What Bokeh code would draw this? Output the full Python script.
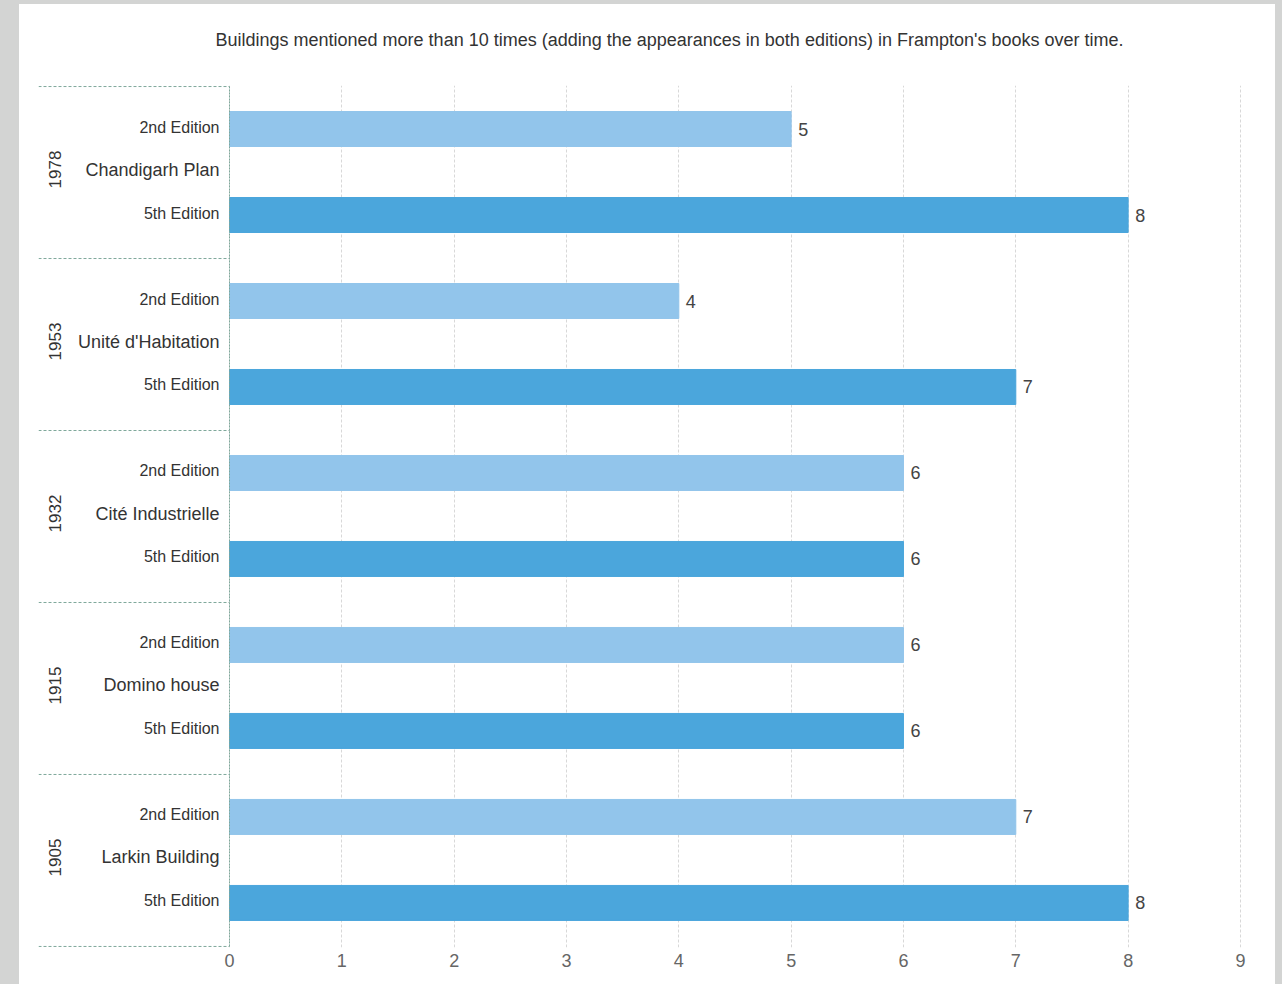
from bokeh.plotting import figure
from bokeh.models import Range1d, FixedTicker, ColumnDataSource
from bokeh.layouts import column
from bokeh.core.properties import value
from bokeh.embed import file_html
from bokeh.resources import INLINE
import math

# ---- data ----
years = ["1978", "1953", "1932", "1915", "1905"]
buildings = ["Chandigarh Plan", "Unité d'Habitation", "Cité Industrielle",
             "Domino house", "Larkin Building"]
editions = ["2nd Edition", "5th Edition"]
second_edition = [5, 4, 6, 6, 7]
fifth_edition = [8, 7, 6, 6, 8]
x_ticks = [0, 1, 2, 3, 4, 5, 6, 7, 8, 9]
title_text = ("Buildings mentioned more than 10 times (adding the appearances in "
              "both editions) in Frampton's books over time.")

FONT = "Liberation Sans"
LIGHT = "#92c5eb"
DARK = "#4ba6dc"
SEP = "#7fa89b"
W = 1256
HEAD_H = 81
BORDER_L = 19
BORDER_R = 25
frame_w = W - BORDER_L - BORDER_R

# ---- heading strip ----
head = figure(width=W, height=HEAD_H, output_backend="svg", toolbar_location=None,
              x_range=Range1d(0, frame_w), y_range=Range1d(0, HEAD_H),
              x_axis_location=None, y_axis_location=None, min_border=0,
              min_border_left=BORDER_L, min_border_right=BORDER_R)
head.outline_line_color = None
head.grid.grid_line_color = None
head.background_fill_color = "white"
head.border_fill_color = "white"
head.styles = {"background-color": "white"}
head.text(x=[177], y=[HEAD_H - 35], text=[title_text], text_align="left",
          text_baseline="middle", text_font=value(FONT), text_font_size="18px",
          text_color="#333333")

# ---- bar chart ----
n = len(buildings)
# each building occupies one unit band, first building at the top
tops = [n - i for i in range(n)]
mids = [t - 0.5 for t in tops]
y2 = [t - 0.247 for t in tops]
y5 = [t - 0.747 for t in tops]
bar_h = 0.2035

px_per_unit = 112.33
x_start = -191 / px_per_unit
x_end = x_start + frame_w / px_per_unit

p = figure(width=W, height=980 - HEAD_H, output_backend="svg",
           toolbar_location=None,
           x_range=Range1d(x_start, x_end), y_range=Range1d(-0.006, n + 0.006),
           y_axis_location=None, min_border_left=BORDER_L,
           min_border_right=BORDER_R, min_border_top=0, min_border_bottom=37)
p.outline_line_color = None
p.background_fill_color = "white"
p.border_fill_color = "white"
p.styles = {"background-color": "white"}

# x axis and grid
p.xaxis.ticker = FixedTicker(ticks=x_ticks)
p.xaxis.axis_line_color = None
p.xaxis.major_tick_line_color = None
p.xaxis.minor_tick_line_color = None
p.xaxis.major_label_text_font = FONT
p.xaxis.major_label_text_font_size = "18px"
p.xaxis.major_label_text_color = "#666666"
p.xaxis.major_label_standoff = 0
p.xgrid.ticker = FixedTicker(ticks=x_ticks)
p.xgrid.grid_line_color = "#d8d8d8"
p.xgrid.grid_line_dash = "3 2"
p.ygrid.grid_line_color = None

# bars
src = ColumnDataSource(dict(y2=y2, y5=y5, v2=second_edition, v5=fifth_edition,
                            s2=[str(v) for v in second_edition],
                            s5=[str(v) for v in fifth_edition],
                            mid=mids, year=years, name=buildings,
                            e2=[editions[0]] * n, e5=[editions[1]] * n))
p.hbar(y="y2", left=0, right="v2", height=bar_h, color=LIGHT, source=src)
p.hbar(y="y5", left=0, right="v5", height=bar_h, color=DARK, source=src)

# value labels
for xv, yv, sv in (("v2", "y2", "s2"), ("v5", "y5", "s5")):
    p.text(x=xv, y=yv, text=sv, source=src, x_offset=7, y_offset=0,
           text_align="left", text_baseline="middle", text_font=value(FONT),
           text_font_size="18px", text_color="#444444")

# left category labels
for yv, tv in (("y2", "e2"), ("y5", "e5")):
    p.text(x=0, y=yv, text=tv, source=src, x_offset=-10, y_offset=-2,
           text_align="right", text_baseline="middle", text_font=value(FONT),
           text_font_size="16px", text_color="#333333")
p.text(x=0, y="mid", text="name", source=src, x_offset=-10, y_offset=-3,
       text_align="right", text_baseline="middle", text_font=value(FONT),
       text_font_size="18px", text_color="#333333")
p.text(x=0, y="mid", text="year", source=src, x_offset=-175, y_offset=-3,
       angle=math.pi / 2, text_align="center", text_baseline="middle",
       text_font=value(FONT), text_font_size="17px", text_color="#333333")

# group separators
bounds = list(range(n + 1))
p.segment(x0=[x_start] * len(bounds), x1=[0] * len(bounds), y0=bounds, y1=bounds,
          line_color=SEP, line_dash="3 2", line_width=1)
p.segment(x0=[0], x1=[0], y0=[0], y1=[n], line_color=SEP, line_dash="2 1",
          line_width=1)

page = column(head, p, spacing=0,
              styles={"background-color": "#d3d4d3",
                      "padding": "4px 7px 0px 19px"})
open("out.html", "w").write(file_html(page, INLINE))
